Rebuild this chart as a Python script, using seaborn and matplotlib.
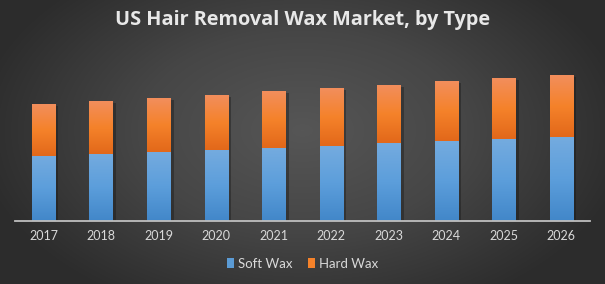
import numpy as np
import pandas as pd
import matplotlib
matplotlib.use("Agg")
import matplotlib.pyplot as plt
import matplotlib.patheffects as pe
from matplotlib.colors import LinearSegmentedColormap
from matplotlib.patches import Patch
import seaborn as sns

years = ["2017", "2018", "2019", "2020", "2021", "2022", "2023", "2024", "2025", "2026"]
soft_wax = [65.5, 67.5, 69, 71, 73, 75, 78, 80, 82, 84]
hard_wax = [51.5, 52.5, 54, 55, 57, 58, 58, 60, 61, 62]

df = pd.DataFrame({"Year": years, "Soft Wax": soft_wax, "Hard Wax": hard_wax})
df["Total"] = df["Soft Wax"] + df["Hard Wax"]

sns.set_style("white")
plt.rcParams["font.family"] = ["Open Sans", "DejaVu Sans"]

fig = plt.figure(figsize=(6.05, 2.84), dpi=100)

# radial gradient background
bg = fig.add_axes([0, 0, 1, 1], zorder=-10)
yy, xx = np.mgrid[0:284, 0:605]
r = np.sqrt(((xx - 302) / 330.0) ** 2 + ((yy - 130) / 200.0) ** 2)
r = np.clip(r, 0, 1)
bgcmap = LinearSegmentedColormap.from_list("bg", ["#565656", "#464646", "#2c2c2c"])
bg.imshow(r, cmap=bgcmap, aspect="auto", vmin=0, vmax=1, extent=[0, 1, 0, 1])
bg.set_axis_off()

ax = fig.add_axes([14.7 / 605, 1 - 221.3 / 284, (590 - 14.7) / 605, 160 / 284])
ax.patch.set_alpha(0)

sns.barplot(data=df, x="Year", y="Total", color="#f5822a", width=0.4, ax=ax,
            saturation=1, zorder=2, linewidth=0, edgecolor="none")
n_total = len(ax.patches)
sns.barplot(data=df, x="Year", y="Soft Wax", color="#5b9bd5", width=0.4, ax=ax,
            saturation=1, zorder=3, linewidth=0, edgecolor="none")

blue_cmap = LinearSegmentedColormap.from_list("b", ["#4287c9", "#5c9edb", "#74abdf"])
orange_cmap = LinearSegmentedColormap.from_list("o", ["#e2681a", "#f5822a", "#f28e5c"])
grad = np.linspace(0, 1, 100).reshape(-1, 1)

for i, p in enumerate(ax.patches):
    x0 = p.get_x()
    w = p.get_width()
    p.set_linewidth(0)
    p.set_edgecolor("none")
    if i < n_total:
        idx = i
        y0, y1 = df["Soft Wax"][idx], df["Total"][idx]
        cm = orange_cmap
        z = 2.1
        p.set_path_effects([pe.SimplePatchShadow(offset=(2.5, -1), alpha=0.35,
                                                 shadow_rgbFace="#111111"), pe.Normal()])
    else:
        idx = i - n_total
        y0, y1 = 0, df["Soft Wax"][idx]
        cm = blue_cmap
        z = 3.1
    im = ax.imshow(grad, cmap=cm, origin="lower", aspect="auto",
                   extent=[x0, x0 + w, y0, y1], zorder=z)
    im.set_clip_path(p)

ax.set_xlim(-0.5, 9.5)
ax.set_ylim(0, 160)
ax.set_xlabel("")
ax.set_ylabel("")
ax.set_yticks([])
for s in ["top", "right", "left"]:
    ax.spines[s].set_visible(False)
ax.spines["bottom"].set_color("#bfbfbf")
ax.spines["bottom"].set_linewidth(1.3)
ax.spines["bottom"].set_zorder(5)
ax.tick_params(axis="x", length=0, pad=6, colors="#d9d9d9")
for lbl in ax.get_xticklabels():
    lbl.set_family(["Lato", "DejaVu Sans"])
    lbl.set_fontsize(9)

fig.text(0.5, 1 - 25 / 284, "US Hair Removal Wax Market, by Type", ha="center", va="baseline",
         fontsize=14.3, fontweight="bold", color="#e8e8e8", family=["Open Sans", "DejaVu Sans"])

handles = [Patch(facecolor="#5b9bd5", edgecolor="none", linewidth=0),
           Patch(facecolor="#f5822a", edgecolor="none", linewidth=0)]
leg = fig.legend(handles, ["Soft Wax", "Hard Wax"], loc="center",
                 bbox_to_anchor=(0.5, 1 - 263.5 / 284), ncol=2, frameon=False,
                 handlelength=0.5, handleheight=0.7, handletextpad=0.3, columnspacing=1.2,
                 prop={"family": ["Lato", "DejaVu Sans"], "size": 9.5})
for t in leg.get_texts():
    t.set_color("#d9d9d9")

fig.savefig("out.png", dpi=100)
